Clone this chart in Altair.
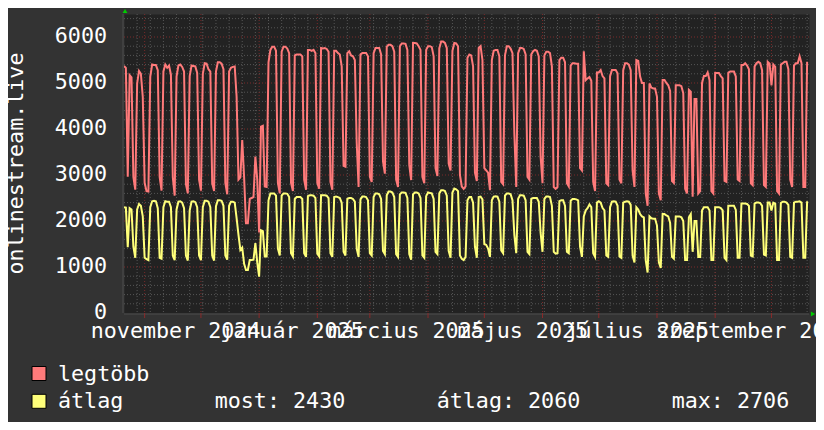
import altair as alt
import pandas as pd

# ---------------- data (daily values) ----------------
start_day = "2024-10-21"
series_names = ["legtöbb", "átlag"]
series_colors = ["#ff7a7a", "#ffff7a"]

legtobb = [
    5370, 5330, 2960, 5170, 5120, 2960, 2680,
    4990, 5260, 5200, 4700, 2830, 2650, 2640,
    5140, 5400, 5390, 5390, 5280, 2960, 2660,
    5250, 5400, 5330, 5380, 5180, 2950, 2550,
    5140, 5380, 5400, 5350, 5250, 2800, 2600,
    5150, 5380, 5370, 5360, 5220, 2900, 2660,
    5200, 5430, 5420, 5300, 5250, 2820, 2650,
    5250, 5450, 5450, 5420, 5300, 2830, 2580,
    5250, 5330, 5350, 5360, 4700, 2900, 2950,
    3760, 2950, 1950, 1950, 2480, 2500, 2520,
    3400, 2900, 1750, 4050, 4070, 2750, 2740,
    5450, 5720, 5790, 5790, 5700, 2830, 2600,
    5680, 5790, 5790, 5750, 5650, 2830, 2650,
    5600, 5620, 5620, 5620, 5580, 2900, 2680,
    5720, 5720, 5700, 5720, 5650, 2830, 2700,
    5760, 5750, 5760, 5740, 5680, 2850, 2680,
    5700, 5700, 5650, 5620, 5360, 3200, 3180,
    5650, 5690, 5600, 5580, 5500, 3700, 2740,
    5620, 5650, 5650, 5650, 5580, 2960, 2850,
    5650, 5760, 5760, 5760, 5620, 3300, 3030,
    5790, 5830, 5830, 5800, 5680, 2900, 2740,
    5800, 5860, 5860, 5850, 5720, 3220, 2890,
    5870, 5870, 5860, 5800, 5720, 2960, 2820,
    5720, 5800, 5800, 5780, 5580, 3150, 2980,
    5750, 5900, 5900, 5870, 5760, 3250, 3100,
    5700, 5870, 5860, 5800, 3000, 2750, 2700,
    2750, 5550, 5620, 5600, 5360, 3050, 2870,
    5760, 5800, 5500, 3150, 3100, 3050, 2670,
    5500, 5700, 5720, 5720, 5580, 2850, 2800,
    5600, 5800, 5800, 5750, 5650, 3900, 2740,
    5650, 5760, 5760, 5740, 5620, 2960, 2900,
    5620, 5690, 5720, 5700, 5580, 3400, 2820,
    5600, 5680, 5680, 5650, 5360, 2740, 2700,
    2740, 5500, 5550, 5550, 5450, 2820, 2750,
    5380, 5430, 5430, 5420, 5420, 3150, 3100,
    5690, 5060, 5100, 5130, 5050, 2850, 2650,
    5230, 5230, 5280, 5150, 5100, 2820, 2780,
    5150, 5280, 5280, 5280, 5210, 2900, 2820,
    5280, 5430, 5430, 5400, 5280, 3100, 2740,
    5500, 5480, 5140, 5000, 5000, 2600, 2330,
    4990, 4900, 4880, 4880, 4700, 2600, 2450,
    5065, 5065, 5000, 4950, 4830, 2870, 2830,
    4950, 4950, 4950, 4930, 4780, 2700, 2600,
    4850, 4810, 2525, 4650, 4650, 2600, 2650,
    5000, 5150, 5150, 5230, 5060, 2650, 2600,
    5220, 5220, 5220, 5150, 5100, 2870, 2850,
    5220, 5250, 5250, 5250, 5140, 2900, 2870,
    5390, 5390, 5430, 5380, 5300, 2820, 2780,
    5360, 5430, 5460, 5430, 5280, 2780, 2740,
    5460, 5420, 4950, 5400, 5350, 2650, 2600,
    5400, 5430, 5460, 5460, 5300, 2900, 2740,
    5380, 5430, 5430, 5580, 5430, 2740, 2740,
    5460,
]

atlag = [
    2300, 2290, 1430, 2280, 2250, 1440, 1200,
    2250, 2370, 2330, 2100, 1200, 1170, 1150,
    2300, 2430, 2440, 2430, 2280, 1200, 1180,
    2300, 2430, 2420, 2420, 2300, 1250, 1150,
    2250, 2420, 2430, 2400, 2280, 1250, 1140,
    2230, 2420, 2430, 2410, 2300, 1250, 1150,
    2300, 2440, 2440, 2420, 2300, 1250, 1140,
    2320, 2450, 2450, 2440, 2330, 1250, 1160,
    2330, 2420, 2420, 2400, 2060, 1700, 1370,
    1420, 1070, 935, 935, 1150, 1150, 1160,
    1520, 1100, 790, 1800, 1780, 1230, 1230,
    2450, 2600, 2600, 2600, 2550, 1400, 1250,
    2550, 2600, 2600, 2590, 2520, 1300, 1230,
    2480, 2520, 2520, 2520, 2480, 1300, 1220,
    2540, 2560, 2560, 2550, 2500, 1290, 1230,
    2560, 2560, 2560, 2550, 2500, 1300, 1220,
    2520, 2530, 2520, 2500, 2400, 1330, 1250,
    2480, 2500, 2500, 2480, 2420, 1400, 1220,
    2470, 2530, 2530, 2520, 2450, 1300, 1250,
    2520, 2600, 2600, 2580, 2480, 1350, 1280,
    2560, 2640, 2640, 2620, 2520, 1280, 1220,
    2580, 2620, 2620, 2610, 2500, 1280, 1160,
    2580, 2620, 2620, 2600, 2500, 1250, 1200,
    2540, 2620, 2610, 2600, 2480, 1330, 1280,
    2600, 2670, 2670, 2650, 2550, 1350, 1200,
    2620, 2706, 2690, 2650, 1250, 1180, 1150,
    1220, 2450, 2520, 2520, 2400, 1440, 1200,
    2520, 2530, 2470, 1500, 1480, 1400, 1220,
    2450, 2530, 2540, 2530, 2420, 1360, 1300,
    2550, 2600, 2600, 2580, 2450, 1700, 1300,
    2480, 2560, 2560, 2550, 2450, 1330, 1280,
    2480, 2500, 2500, 2500, 2420, 1740, 1330,
    2480, 2530, 2530, 2520, 2330, 1330, 1290,
    1300, 2430, 2450, 2450, 2330, 1330, 1300,
    2440, 2480, 2480, 2470, 2450, 1440, 1220,
    2100, 2230, 2280, 2360, 2300, 1300, 1220,
    2400, 2430, 2400, 2280, 2230, 1250, 1220,
    2300, 2420, 2430, 2420, 2330, 1230, 1200,
    2400, 2420, 2430, 2420, 2350, 1250, 1100,
    2300, 2250, 2150, 2100, 2080, 1150, 880,
    2100, 2060, 2050, 2050, 1900, 1100, 980,
    2150, 2150, 2120, 2100, 1960, 1220, 1180,
    2100, 2100, 2100, 2080, 2000, 1150, 1150,
    2080, 2150, 1330, 2000, 2000, 1220, 1220,
    2230, 2300, 2300, 2300, 2230, 1150, 1150,
    2300, 2300, 2300, 2280, 2230, 1200, 1150,
    2330, 2330, 2330, 2330, 2240, 1200, 1200,
    2380, 2380, 2380, 2370, 2330, 1250, 1230,
    2380, 2400, 2400, 2390, 2330, 1270, 1250,
    2400, 2400, 2230, 2400, 2380, 1150, 1150,
    2390, 2420, 2420, 2400, 2350, 1220, 1200,
    2400, 2420, 2420, 2430, 2400, 1200, 1200,
    2430,
]

# legend statistics printed under the chart
stat_most = 2430
stat_atlag = 2060
stat_max = 2706

y_title = "onlinestream.live"
y_label_values = [0, 1000, 2000, 3000, 4000, 5000, 6000]
y_top = 6500
hu_months = ["január", "február", "március", "április", "május", "június",
             "július", "augusztus", "szeptember", "október", "november", "december"]
# label centres (mid-month, rrdtool style), every second month
label_days = [(2024, 11, 17), (2025, 1, 18), (2025, 3, 20),
              (2025, 5, 21), (2025, 7, 21), (2025, 9, 21)]

# ---------------- styling ----------------
FONT = "DejaVu Sans Mono"
FS = 21.7
WHITE = "#ffffff"
OUTER_BG = "#333333"
PLOT_BG = "#222222"
MINOR_GRID = "#565656"
MAJOR_GRID = "#7a2a2a"
AXIS_LINE = "#4e4e4e"

assert len(legtobb) == len(atlag) == 365

dates = pd.date_range(start_day, periods=len(legtobb), freq="D")
df = pd.DataFrame({
    "day": list(dates) * 2,
    "value": legtobb + atlag,
    "series": [series_names[0]] * len(legtobb) + [series_names[1]] * len(atlag),
})

x_start = pd.Timestamp(start_day)
x_end = x_start + pd.Timedelta(days=365)
x_scale = alt.Scale(domain=[alt.DateTime(year=2024, month=10, date=21),
                            alt.DateTime(year=2025, month=10, date=21)])
y_scale = alt.Scale(domain=[0, y_top], nice=False, zero=True)
color_scale = alt.Scale(domain=series_names, range=series_colors)

week_lines = pd.DataFrame({"day": pd.date_range("2024-10-28", "2025-10-20", freq="7D")})
month_lines = pd.DataFrame({"day": pd.date_range("2024-11-01", "2025-10-01", freq="MS")})
minor_h = pd.DataFrame({"value": [v for v in range(200, y_top, 200) if v % 1000]})
major_h = pd.DataFrame({"value": [v for v in y_label_values if v > 0]})

y_labels_df = pd.DataFrame({"value": y_label_values, "text": [str(v) for v in y_label_values]})
x_labels_df = pd.DataFrame({
    "day": [pd.Timestamp(y, m, d, 12) for (y, m, d) in label_days],
    "text": ["%s %d" % (hu_months[m - 1], y) for (y, m, d) in label_days],
})
title_df = pd.DataFrame({"text": [y_title]})

NB = "\u00a0"
gap = NB * 7
atlag_label = (series_names[1] + gap + "most: %d" % stat_most + gap
               + "átlag: %d" % stat_atlag + gap + "max: %d" % stat_max)
legend_df = pd.DataFrame({"series": series_names, "label": [series_names[0], atlag_label]})

X = lambda: alt.X("day:T", scale=x_scale, axis=None)
Y = lambda: alt.Y("value:Q", scale=y_scale, axis=None)

# grid
vminor = alt.Chart(week_lines).mark_rule(color=MINOR_GRID, strokeWidth=1, strokeDash=[1, 2]).encode(x=X())
hminor = alt.Chart(minor_h).mark_rule(color=MINOR_GRID, strokeWidth=1, strokeDash=[1, 2]).encode(y=Y())
vmajor = alt.Chart(month_lines).mark_rule(color=MAJOR_GRID, strokeWidth=1, strokeDash=[1, 2]).encode(x=X())
hmajor = alt.Chart(major_h).mark_rule(color=MAJOR_GRID, strokeWidth=1, strokeDash=[1, 2]).encode(y=Y())

# axis lines and small month ticks under the x axis
x_axis_line = alt.Chart(pd.DataFrame({"value": [0]})).mark_rule(
    color=AXIS_LINE, strokeWidth=1, yOffset=1).encode(y=Y())
y_axis_line = alt.Chart(pd.DataFrame({"day": [x_start]})).mark_rule(
    color=AXIS_LINE, strokeWidth=1, xOffset=-1).encode(x=X())
month_ticks = alt.Chart(month_lines).mark_rule(color="#8a2a2a", strokeWidth=1).encode(
    x=X(), y=alt.value(299), y2=alt.value(304))

# data lines
lines = alt.Chart(df).mark_line(interpolate="linear", strokeWidth=2, clip=True).encode(
    x=X(), y=Y(),
    color=alt.Color("series:N", scale=color_scale, legend=None),
    order=alt.Order("day:T"),
)

# axis labels and title as text marks placed through the scales
y_labels = alt.Chart(y_labels_df).mark_text(
    align="right", baseline="middle", font=FONT, fontSize=FS, color=WHITE, dy=-1
).encode(y=Y(), x=alt.value(-17), text="text:N")
x_labels = alt.Chart(x_labels_df).mark_text(
    align="center", baseline="alphabetic", font=FONT, fontSize=FS, color=WHITE
).encode(x=X(), y=alt.value(324), text="text:N")
y_title_mark = alt.Chart(title_df).mark_text(
    align="center", baseline="middle", angle=270, font=FONT, fontSize=FS, color=WHITE
).encode(x=alt.value(-108), y=alt.value(149.5), text="text:N")

# rrdtool-style green arrows
arrow_up = alt.Chart(pd.DataFrame({"day": [x_start], "value": [y_top]})).mark_point(
    shape="triangle-up", filled=True, color="#00cc00", size=24, opacity=1, yOffset=-3, xOffset=1
).encode(x=X(), y=Y())
arrow_right = alt.Chart(pd.DataFrame({"day": [x_end], "value": [0]})).mark_point(
    shape="triangle-right", filled=True, color="#00cc00", size=24, opacity=1, xOffset=4, yOffset=1
).encode(x=X(), y=Y())

# custom legend rows (below the plot)
legend_rows = []
for i, row_y in enumerate([359.5, 387.3]):
    base = alt.Chart(legend_df).transform_filter(alt.datum.series == series_names[i])
    legend_rows.append(base.mark_square(
        size=196, filled=True, opacity=1, stroke="#000000", strokeWidth=1
    ).encode(x=alt.value(-85), y=alt.value(row_y),
             fill=alt.Fill("series:N", scale=color_scale, legend=None)))
    legend_rows.append(base.mark_text(
        align="left", baseline="middle", font=FONT, fontSize=FS, color=WHITE
    ).encode(x=alt.value(-66), y=alt.value(row_y), text="label:N"))

chart = alt.layer(
    vminor, hminor, vmajor, hmajor, x_axis_line, y_axis_line, month_ticks,
    lines, y_labels, x_labels, y_title_mark, arrow_up, arrow_right, *legend_rows
).properties(
    width=685, height=299, background=OUTER_BG,
    padding={"left": 116, "top": 6, "right": 7, "bottom": 109},
    autosize=alt.AutoSizeParams(type="none"),
).configure_view(fill=PLOT_BG, stroke="transparent")

chart.save("out.html", embed_options={"renderer": "svg", "actions": False})
